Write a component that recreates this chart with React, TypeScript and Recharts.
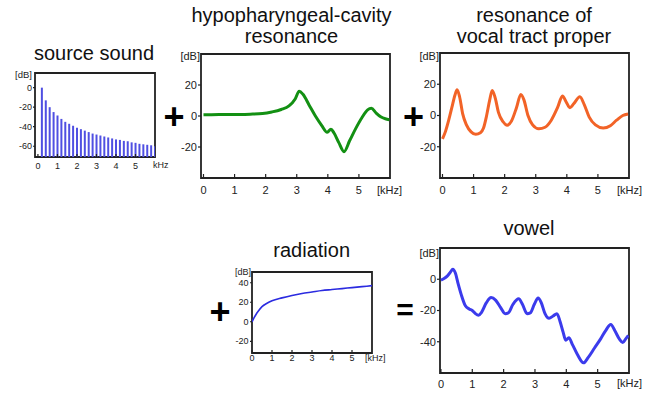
import React from 'react';
import { LineChart, Line, XAxis, YAxis, ReferenceArea, ComposedChart, Bar } from 'recharts';

const FONT = '"Liberation Sans", Arial, Helvetica, sans-serif';

// ---- source sound (harmonic spectrum) ----
const sourceFreq = [0.2, 0.4, 0.6, 0.8, 1.0, 1.2, 1.4, 1.6, 1.8, 2.0, 2.2, 2.4, 2.6, 2.8, 3.0, 3.2, 3.4, 3.6, 3.8, 4.0, 4.2, 4.4, 4.6, 4.8, 5.0, 5.2, 5.4, 5.6, 5.8, 6.0];
const sourceDb = [0, -13, -20, -25, -28.5, -32, -35, -37, -39, -41, -42.5, -44, -45.5, -47, -48, -49, -50, -51, -52, -53, -53.5, -54.5, -55, -56, -56.5, -57.5, -58, -58.5, -59, -60];

// ---- hypopharyngeal-cavity resonance ----
const hypoFreq = [0, 0.5, 1.0, 1.5, 1.9, 2.2, 2.5, 2.75, 2.95, 3.08, 3.2, 3.4, 3.6, 3.8, 3.98, 4.1, 4.2, 4.35, 4.52, 4.7, 4.9, 5.1, 5.28, 5.4, 5.55, 5.7, 5.85, 5.98];
const hypoDb = [0.8, 0.9, 1.0, 1.2, 1.6, 2.6, 4.2, 6.5, 11, 16, 14, 7, 0, -6, -10.5, -8.5, -11, -17, -23, -16, -8, -1, 4, 5, 2, -0.5, -1.8, -2.4];

// ---- resonance of vocal tract proper ----
const vtFreq = [0, 0.1, 0.2, 0.3, 0.4, 0.47, 0.55, 0.65, 0.77, 0.92, 1.07, 1.22, 1.32, 1.42, 1.52, 1.6, 1.7, 1.8, 1.95, 2.08, 2.22, 2.38, 2.52, 2.62, 2.75, 2.9, 3.1, 3.3, 3.5, 3.7, 3.86, 3.97, 4.1, 4.22, 4.42, 4.56, 4.72, 4.92, 5.17, 5.4, 5.6, 5.8, 5.97];
const vtDb = [-15, -10, -3, 5, 13, 16.5, 12, 1, -6, -10.5, -12, -11, -8, 0, 10, 16, 11, 2, -4, -6.3, -3.5, 5, 13.5, 10, 0, -6, -8.5, -7.5, -3, 5, 12.5, 9, 5, 7.5, 12, 7, -1, -6, -8, -6.5, -3, 0, 1];

// ---- radiation ----
const radFreq = [0, 0.05, 0.1, 0.2, 0.3, 0.5, 0.75, 1.0, 1.5, 2.0, 2.5, 3.0, 3.5, 4.0, 4.5, 5.0, 5.5, 6.0];
const radDb = [0, 2, 4, 7.5, 10.5, 15.5, 19, 21.5, 24.5, 27, 29, 30.5, 32, 33, 34, 35, 36, 37];

// ---- vowel ----
const vowelFreq = [0, 0.1, 0.2, 0.3, 0.38, 0.46, 0.55, 0.65, 0.78, 0.9, 1.0, 1.1, 1.2, 1.3, 1.45, 1.6, 1.75, 1.9, 2.05, 2.15, 2.3, 2.48, 2.6, 2.75, 2.85, 2.98, 3.1, 3.2, 3.32, 3.45, 3.58, 3.7, 3.8, 3.9, 3.98, 4.08, 4.2, 4.35, 4.55, 4.7, 4.9, 5.1, 5.25, 5.42, 5.55, 5.7, 5.8, 5.9, 5.98];
const vowelDb = [-0.5, 0.5, 2, 4.5, 6.4, 4, -3, -10, -17, -19, -20, -22, -23, -21, -15, -11.7, -13.5, -18, -22, -21.5, -16, -12.5, -16, -22, -21.5, -16, -12, -15, -22, -25, -23.5, -22, -27, -34, -39, -37.5, -42, -48, -53.5, -50, -44, -38, -33, -29, -33, -38.5, -40.5, -38, -36];

const X_TICKS = [0, 1, 2, 3, 4, 5];

const zip = (fs: number[], vs: number[]) => fs.map((f, i) => ({ f, v: vs[i] }));

type Cfg = {
  xDomain: [number, number];
  yDomain: [number, number];
  yTicks: number[];
  font: number;
  yW: number;
  xH: number;
  xTickSize: number;
  xTickMargin: number;
  yTickSize: number;
  yTickMargin: number;
};

function frame(c: Cfg) {
  const tick = { fontSize: c.font, fill: '#222', fontFamily: FONT };
  return [
    <XAxis
      key="x"
      dataKey="f"
      type="number"
      domain={c.xDomain}
      ticks={X_TICKS}
      allowDataOverflow
      axisLine={false}
      tickLine={{ stroke: '#222', strokeWidth: 1.2 }}
      tickSize={c.xTickSize}
      tickMargin={c.xTickMargin}
      height={c.xH}
      tick={tick}
      interval={0}
    />,
    <YAxis
      key="y"
      type="number"
      domain={c.yDomain}
      ticks={c.yTicks}
      allowDataOverflow
      axisLine={false}
      tickLine={{ stroke: '#222', strokeWidth: 1.2 }}
      tickSize={c.yTickSize}
      tickMargin={c.yTickMargin}
      width={c.yW}
      tick={tick}
      interval={0}
    />,
    <ReferenceArea
      key="box"
      x1={c.xDomain[0]}
      x2={c.xDomain[1]}
      y1={c.yDomain[0]}
      y2={c.yDomain[1]}
      fill="none"
      stroke="#222"
      strokeWidth={1.8}
      ifOverflow="visible"
    />,
  ];
}

const SOURCE_MIN = -71;
const sourceData = sourceFreq.map((f, i) => ({ f, r: [SOURCE_MIN, sourceDb[i]] }));

const bigCfg = {
  yTicks: [-20, 0, 20],
  font: 11,
  yW: 41,
  xH: 22,
  xTickSize: -4,
  xTickMargin: 12,
  yTickSize: 3,
  yTickMargin: 1,
};

const abs = (left: number, top: number): React.CSSProperties => ({ position: 'absolute', left, top });

export default function App() {
  const title = { fontFamily: FONT, fontSize: 20, fill: '#111', textAnchor: 'middle' as const };
  const unitBig = { fontFamily: FONT, fontSize: 11, fill: '#222' };
  const sign = { fontFamily: FONT, fontWeight: 700, fill: '#000', textAnchor: 'middle' as const };
  return (
    <div style={{ position: 'absolute', left: 0, top: 0, width: 652, height: 394, background: '#fff', overflow: 'hidden' }}>
      {/* source sound */}
      <div style={abs(0, 60)}>
        <ComposedChart width={175} height={120} data={sourceData} margin={{ top: 13, right: 20, bottom: 0, left: 0 }}>
          {frame({ xDomain: [-0.15, 6], yDomain: [SOURCE_MIN, 15], yTicks: [-60, -40, -20, 0], font: 9, yW: 35, xH: 23, xTickSize: -3, xTickMargin: 8.5, yTickSize: 2, yTickMargin: 1 })}
          <Bar dataKey="r" fill="#4f4fe2" barSize={2} isAnimationActive={false} />
        </ComposedChart>
      </div>

      {/* hypopharyngeal-cavity resonance */}
      <div style={abs(160, 40)}>
        <LineChart width={245} height={160} data={zip(hypoFreq, hypoDb)} margin={{ top: 14, right: 15, bottom: 0, left: 0 }}>
          {frame({ ...bigCfg, xDomain: [-0.08, 6], yDomain: [-40, 40] })}
          <Line type="monotone" dataKey="v" stroke="#139013" strokeWidth={3} dot={false} isAnimationActive={false} />
        </LineChart>
      </div>

      {/* vocal tract proper */}
      <div style={abs(399, 39)}>
        <LineChart width={245} height={161} data={zip(vtFreq, vtDb)} margin={{ top: 14, right: 15, bottom: 0, left: 0 }}>
          {frame({ ...bigCfg, xDomain: [-0.08, 6], yDomain: [-40, 40] })}
          <Line type="monotone" dataKey="v" stroke="#f26327" strokeWidth={3} dot={false} isAnimationActive={false} />
        </LineChart>
      </div>

      {/* radiation */}
      <div style={abs(215, 260)}>
        <LineChart width={175} height={115} data={zip(radFreq, radDb)} margin={{ top: 12, right: 18, bottom: 0, left: 0 }}>
          {frame({ xDomain: [0, 6], yDomain: [-32, 51], yTicks: [-20, 0, 20, 40], font: 9, yW: 37, xH: 22, xTickSize: -3, xTickMargin: 5, yTickSize: 2, yTickMargin: 1.5 })}
          <Line type="monotone" dataKey="v" stroke="#2b2be0" strokeWidth={1.6} dot={false} isAnimationActive={false} />
        </LineChart>
      </div>

      {/* vowel */}
      <div style={abs(399, 234)}>
        <LineChart width={245} height={161} data={zip(vowelFreq, vowelDb)} margin={{ top: 14, right: 15, bottom: 0, left: 0 }}>
          {frame({ ...bigCfg, yTicks: [-40, -20, 0], xDomain: [-0.03, 6], yDomain: [-60, 20], xTickMargin: 11 })}
          <Line type="monotone" dataKey="v" stroke="#3b3bec" strokeWidth={3} dot={false} isAnimationActive={false} />
        </LineChart>
      </div>

      {/* texts and operators */}
      <svg width={652} height={394} style={{ position: 'absolute', left: 0, top: 0, pointerEvents: 'none' }}>
        <text x={94} y={60} {...title}>source sound</text>
        <text x={291.5} y={21.7} {...title}>hypopharyngeal-cavity</text>
        <text x={291.5} y={42.7} {...title}>resonance</text>
        <text x={534} y={21.7} {...title}>resonance of</text>
        <text x={534} y={43} {...title}>vocal tract proper</text>
        <text x={311.7} y={256.7} {...title}>radiation</text>
        <text x={529} y={235} {...title}>vowel</text>

        <text x={32} y={77.5} fontFamily={FONT} fontSize={9.5} fill="#222" textAnchor="end">[dB]</text>
        <text x={153} y={167.5} fontFamily={FONT} fontSize={9} fill="#222">kHz</text>
        <text x={200} y={60} {...unitBig} textAnchor="end">[dB]</text>
        <text x={377} y={194} {...unitBig}>[kHz]</text>
        <text x={439} y={60} {...unitBig} textAnchor="end">[dB]</text>
        <text x={617} y={194} {...unitBig}>[kHz]</text>
        <text x={251} y={274.5} fontFamily={FONT} fontSize={9} fill="#222" textAnchor="end">[dB]</text>
        <text x={365} y={361} fontFamily={FONT} fontSize={9} fill="#222">[kHz]</text>
        <text x={439} y={256.5} {...unitBig} textAnchor="end">[dB]</text>
        <text x={617} y={387} {...unitBig}>[kHz]</text>

        <text x={174} y={129} fontSize={36} {...sign}>+</text>
        <text x={413.5} y={129.4} fontSize={36} {...sign}>+</text>
        <text x={220} y={324.4} fontSize={36} {...sign}>+</text>
        <text x={405} y={320} fontSize={30} {...sign}>=</text>
      </svg>
    </div>
  );
}
